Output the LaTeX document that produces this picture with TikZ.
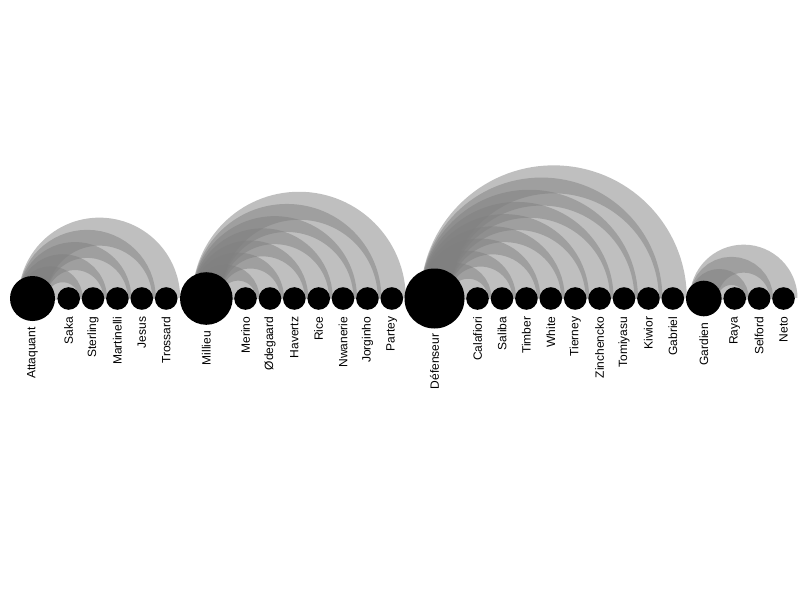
\documentclass[tikz,border=0pt]{standalone}
\usepackage{fontspec}
\setmainfont{Liberation Sans}
\usetikzlibrary{calc,backgrounds}
\tikzset{
  grpnode/.style={circle, fill=black, inner sep=0pt, draw=none},
  plnode/.style={circle, fill=black, inner sep=0pt, draw=none, minimum size=22.6pt},
  lbl/.style={rotate=90, anchor=east, inner sep=0pt, font=\fontsize{12}{14}\selectfont},
  linkarc/.style={draw=gray, draw opacity=0.5, line width=28pt}
}
\begin{document}
\begin{tikzpicture}[x=1pt,y=1pt]
\useasboundingbox (0,0) rectangle (805,-600);
% group nodes
\node[grpnode, minimum size=45pt] (att) at (32.5,-298.5) {};
\node[grpnode, minimum size=52.6pt] (mil) at (206.3,-298.5) {};
\node[grpnode, minimum size=60pt] (def) at (434.5,-298.5) {};
\node[grpnode, minimum size=35.6pt] (gar) at (703.8,-298.5) {};
\node[lbl] (att-l) at ([yshift=-6pt]att.south) {Attaquant};
\node[lbl] (mil-l) at ([yshift=-6pt]mil.south) {Millieu};
\node[lbl] (def-l) at ([yshift=-5pt]def.south) {Défenseur};
\node[lbl] (gar-l) at ([yshift=-6pt]gar.south) {Gardien};
% players
\foreach \nm/\xx/\lab in {
  saka/68.7/Saka, sterling/93/Sterling, martinelli/117.4/Martinelli, jesus/141.8/Jesus, trossard/166.2/Trossard,
  merino/245.5/Merino, odegaard/270/Ødegaard, havertz/294.3/Havertz, rice/318.7/Rice, nwanerie/343/Nwanerie, jorginho/367.4/Jorginho, partey/391.8/Partey,
  calafiori/477.5/Calafiori, saliba/502/Saliba, timber/526.4/Timber, white/550.8/White, tierney/575.2/Tierney, zinchencko/599.6/Zinchencko, tomiyasu/624/Tomiyasu, kiwior/648.4/Kiwior, gabriel/672.8/Gabriel,
  raya/734.7/Raya, selford/759.1/Selford, neto/783.5/Neto}
{
  \node[plnode] (\nm) at (\xx,-298.5) {};
  \node[lbl] (\nm-l) at ([yshift=-6.5pt]\nm.south) {\lab};
}
% links
\begin{scope}[on background layer]
\fill[white] (0,0) rectangle (805,-600);
\foreach \gg/\pp in {
  att/saka, att/sterling, att/martinelli, att/jesus, att/trossard,
  mil/merino, mil/odegaard, mil/havertz, mil/rice, mil/nwanerie, mil/jorginho, mil/partey,
  def/calafiori, def/saliba, def/timber, def/white, def/tierney, def/zinchencko, def/tomiyasu, def/kiwior, def/gabriel,
  gar/raya, gar/selford, gar/neto}
{
  \draw[linkarc] let \p1=(\gg.center), \p2=(\pp.center), \n1={(\x2-\x1)/2} in
    (\p1) arc[start angle=180, end angle=0, radius=\n1];
}
\end{scope}
\end{tikzpicture}
\end{document}
